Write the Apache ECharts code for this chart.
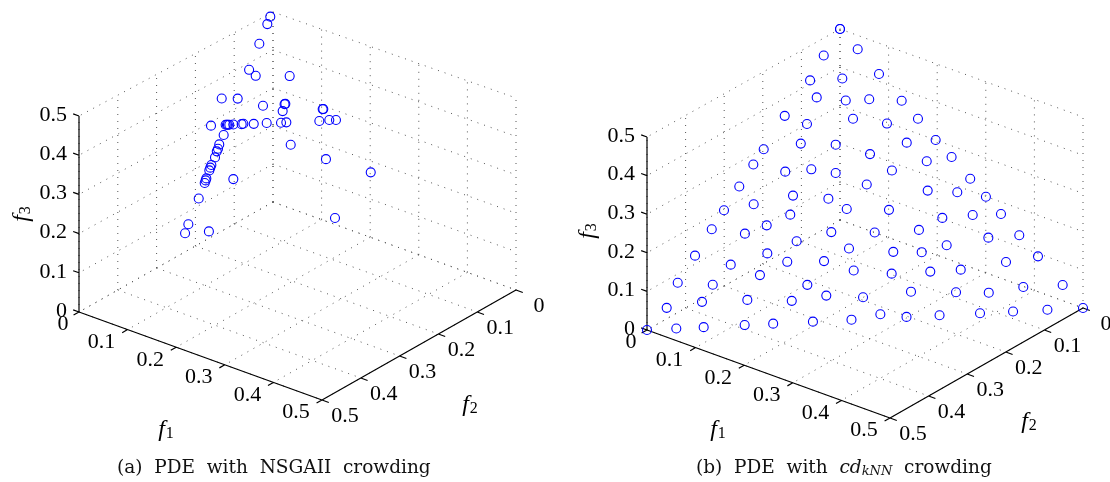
<!DOCTYPE html>
<html>
<head>
<meta charset="utf-8">
<style>html,body{margin:0;padding:0;background:#fff;overflow:hidden}#c{width:1110px;height:482px}</style>
<script src="https://cdn.jsdelivr.net/npm/echarts@6/dist/echarts.min.js"></script>
</head>
<body>
<div id="c"></div>
<script>
// Objective values
const nsgaF1 = [.0004,.0027,.0085,.0166,.029,.0692,.0064,.0253,.0606,.0855,.0848,.0879,.0146,.0312,.0327,.0339,.0355,.04,.0496,.0513,.0636,.0782,.0949,.1009,.1232,.0367,.0387,.0405,.0411,.0436,.0451,.0459,.0468,.0494,.0501,.051,.0818,.0557,.063,.066,.0927,.1342,.1335,.1387,.1497,.1576,.1758,.2387,.2314];
const nsgaF2 = [.0075,.018,.0459,.0824,.0809,.0437,.1402,.1227,.1017,.0753,.0764,.0852,.1781,.1611,.1597,.1586,.1571,.1524,.1429,.1407,.1293,.1142,.0982,.092,.1087,.1731,.187,.1925,.1964,.2041,.2154,.2191,.2228,.2337,.2364,.2399,.2047,.2612,.2971,.3093,.2813,.0385,.0392,.0543,.0424,.0351,.0837,.0471,.1301];
const nsgaF3 = [.4921,.4793,.4456,.401,.3901,.3871,.3534,.352,.3377,.3392,.3388,.3269,.3073,.3077,.3076,.3075,.3074,.3076,.3075,.308,.3071,.3076,.3069,.3071,.2681,.2902,.2743,.267,.2625,.2523,.2395,.235,.2304,.2169,.2135,.2091,.2135,.1831,.1399,.1247,.126,.3273,.3273,.307,.3079,.3073,.2405,.2142,.1385];

const knnF1 = [0,0,.001,.0038,.0405,.0246,.0613,.0008,.0333,.0838,.0013,.0409,.083,.0006,.0438,.0729,.1045,.0007,.0712,.1154,.0312,.145,.0006,.0824,.0005,.0431,.0626,.1442,.1101,.0364,.0804,.0881,.1276,.1276,.1606,.1655,.1977,.1308,.2296,.2033,.1692,.2681,.15,.2268,.2631,.3004,.1956,.2986,.3314,.2649,.1959,.2463,.3344,.3692,.0007,.0498,.0846,.1146,.1576,.1776,.0923,.1558,.1999,.0007,.0437,.0439,.0066,.0961,.1495,.1864,.2345,0,.0336,.065,.112,.1447,.1903,.2326,.2665,.2908,.3738,.4074,.2472,.2914,.326,.4133,.4584,.2312,.2838,.3376,.3767,.2646,.2976,.3355,.3819,.4198,.4592,.5];
const knnF2 = [0,0,.0434,.0823,.045,.0913,.0623,.1442,.1275,.0718,.1993,.1531,.1157,.2253,.197,.1661,.1428,.2618,.2114,.1754,.2629,.1651,.3013,.2326,.3329,.3006,.2687,.2041,.251,0,.0002,.0352,.0009,.039,.0002,.0355,.0011,.0869,0,.0313,.0785,.0002,.1196,.0584,.0274,.0002,.1194,.0322,.0002,.0684,.1568,.1056,.0367,.0004,.3765,.3458,.2948,.2809,.2398,.2003,.3236,.2808,.2162,.4213,.3847,.4128,.4573,.3611,.3132,.2702,.2655,.5,.4664,.435,.388,.3553,.3097,.1548,.1239,.0898,.0406,0,.1774,.133,.0977,.0455,.0003,.2314,.1734,.1245,.0889,.2286,.2024,.1645,.1181,.0802,.0408,0];
const knnF3 = [.5,.5,.4556,.4139,.4145,.3841,.3764,.355,.3392,.3444,.2994,.306,.3013,.2741,.2592,.261,.2527,.2375,.2174,.2092,.2059,.1899,.1981,.185,.1666,.1563,.1687,.1517,.1389,.4637,.4194,.3767,.3715,.3334,.3392,.299,.3012,.2823,.2706,.2654,.2523,.2317,.2304,.2148,.2095,.1994,.185,.1692,.1684,.1667,.1473,.1481,.1289,.1304,.1228,.1044,.1206,.1045,.1026,.1221,.0841,.0634,.0839,.078,.0716,.0433,.0361,.0428,.0373,.0434,0,0,0,0,0,0,0,.1126,.1096,.1194,.0856,.0926,.0754,.0756,.0763,.0412,.0413,.0374,.0428,.0379,.0344,.0068,0,0,0,0,0,0];

// Axis ticks
const tickValues = [0, 0.1, 0.2, 0.3, 0.4, 0.5];
const tickLabels = ['0', '0.1', '0.2', '0.3', '0.4', '0.5'];
const axisMax = 0.5;

// Oblique view used by each panel
const views = [
  {x0:273, y0:202, e1:[486,176], e2:[-388,220], h0:190, hf1:4, hf2:12},
  {x0:840, y0:220, e1:[486,176], e2:[-386,220], h0:191, hf1:0, hf2:4}
];
const FONT = '"Liberation Serif", serif';
const CAPFONT = '"DejaVu Serif", serif';
const INK = '#000';

function proj(v, f1, f2, f3, dx, dy) {
  const h = v.h0 + v.hf1 * f1 + v.hf2 * f2;
  return [
    v.x0 + v.e1[0] * f1 + v.e2[0] * f2 + (dx || 0),
    v.y0 + v.e1[1] * f1 + v.e2[1] * f2 - 2 * h * f3 + (dy || 0)
  ];
}

function buildPanel(i, F1, F2, F3) {
  const v = views[i];
  const gap = [null, null];
  const m = axisMax;
  const dotted = [], solid = [];
  const seg = (arr, a, b) => { arr.push(proj(v, ...a), proj(v, ...b), gap); };
  tickValues.forEach(k => {
    seg(dotted, [k, 0, 0], [k, m, 0]);   // floor
    seg(dotted, [0, k, 0], [m, k, 0]);
    seg(dotted, [0, k, 0], [0, k, m]);   // f1 = 0 wall
    seg(dotted, [0, 0, k], [0, m, k]);
    seg(dotted, [k, 0, 0], [k, 0, m]);   // f2 = 0 wall
    seg(dotted, [0, 0, k], [m, 0, k]);
  });
  seg(solid, [0, m, 0], [0, m, m]);
  seg(solid, [0, m, 0], [m, m, 0]);
  seg(solid, [m, m, 0], [m, 0, 0]);
  const labels = [];
  tickValues.forEach((k, j) => {
    seg(solid, [k, m, 0], [k, m + 0.014, 0]);
    seg(solid, [m, k, 0], [m + 0.014, k, 0]);
    seg(solid, [0, m, k], [-0.012, m, k]);
    labels.push({value: proj(v, k, m, 0, k === 0 ? -16 : -26, 12.6), name: tickLabels[j]});
    labels.push({value: proj(v, m, k, 0, 23, 16.3), name: tickLabels[j]});
    labels.push({value: proj(v, 0, m, k, -12, -1), name: tickLabels[j], label: {align: 'right'}});
  });
  const titleOff = i === 0
    ? {f1:[166, 430], f2:[470, 405], f3:[22, 214]}
    : {f1:[718, 430], f2:[1029, 422], f3:[588, 231]};
  const titleItem = (n, p, rot) => ({
    value: p, name: n,
    label: {rotate: rot || 0, formatter: '{f|f}{s|' + n + '}',
      rich: {f: {fontFamily: FONT, fontStyle: 'italic', fontSize: 24, color: INK},
             s: {fontFamily: FONT, fontSize: 16, color: INK, padding: [7, 0, 0, 1]}}}
  });
  const base = {xAxisIndex: i, yAxisIndex: i, silent: true, animation: false};
  return [
    Object.assign({}, base, {type: 'line', data: dotted, showSymbol: false, symbol: 'none', connectNulls: false, z: 1,
      lineStyle: {color: '#555', width: 1, type: [1, 6]}}),
    Object.assign({}, base, {type: 'line', data: solid, showSymbol: false, symbol: 'none', connectNulls: false, z: 2,
      lineStyle: {color: '#000', width: 1.2}}),
    Object.assign({}, base, {type: 'scatter', symbol: 'circle', symbolSize: 0, z: 3,
      data: labels.concat([titleItem('1', titleOff.f1), titleItem('2', titleOff.f2), titleItem('3', titleOff.f3, 90)]),
      label: {show: true, position: 'inside', formatter: p => p.name, fontFamily: FONT, fontSize: 22, color: INK, opacity: 1}}),
    Object.assign({}, base, {type: 'scatter', symbol: 'circle', symbolSize: 9, z: 4,
      data: F1.map((f, j) => proj(v, f, F2[j], F3[j])),
      itemStyle: {color: 'rgba(0,0,0,0)', borderColor: '#0000ff', borderWidth: 1.1, opacity: 1}})
  ];
}

const capRich = {
  t: {fontFamily: CAPFONT, fontSize: 18.5, fontWeight: 'normal', color: '#111'},
  i: {fontFamily: CAPFONT, fontSize: 18.5, fontWeight: 'normal', fontStyle: 'italic', color: '#111'},
  k: {fontFamily: CAPFONT, fontSize: 13, fontWeight: 'normal', fontStyle: 'italic', color: '#111', padding: [6, 0, 0, 0]}
};
const chart = echarts.init(document.getElementById('c'), null, {renderer: 'canvas', width: 1110, height: 482});
chart.setOption({
  animation: false,
  backgroundColor: '#fff',
  grid: [
    {left: 0, top: 0, width: 555, height: 482},
    {left: 555, top: 0, width: 555, height: 482}
  ],
  xAxis: [
    {type: 'value', gridIndex: 0, min: 0, max: 555, show: false},
    {type: 'value', gridIndex: 1, min: 555, max: 1110, show: false}
  ],
  yAxis: [
    {type: 'value', gridIndex: 0, min: 0, max: 482, inverse: true, show: false},
    {type: 'value', gridIndex: 1, min: 0, max: 482, inverse: true, show: false}
  ],
  title: [
    {left: 117, top: 459, padding: 0, text: '{t|(a)  PDE  with  NSGAII  crowding}', textStyle: {rich: capRich}},
    {left: 696, top: 459, padding: 0, text: '{t|(b)  PDE  with  }{i|cd}{k|kNN}{t|  crowding}', textStyle: {rich: capRich}}
  ],
  series: buildPanel(0, nsgaF1, nsgaF2, nsgaF3).concat(buildPanel(1, knnF1, knnF2, knnF3))
});
</script>
</body>
</html>
